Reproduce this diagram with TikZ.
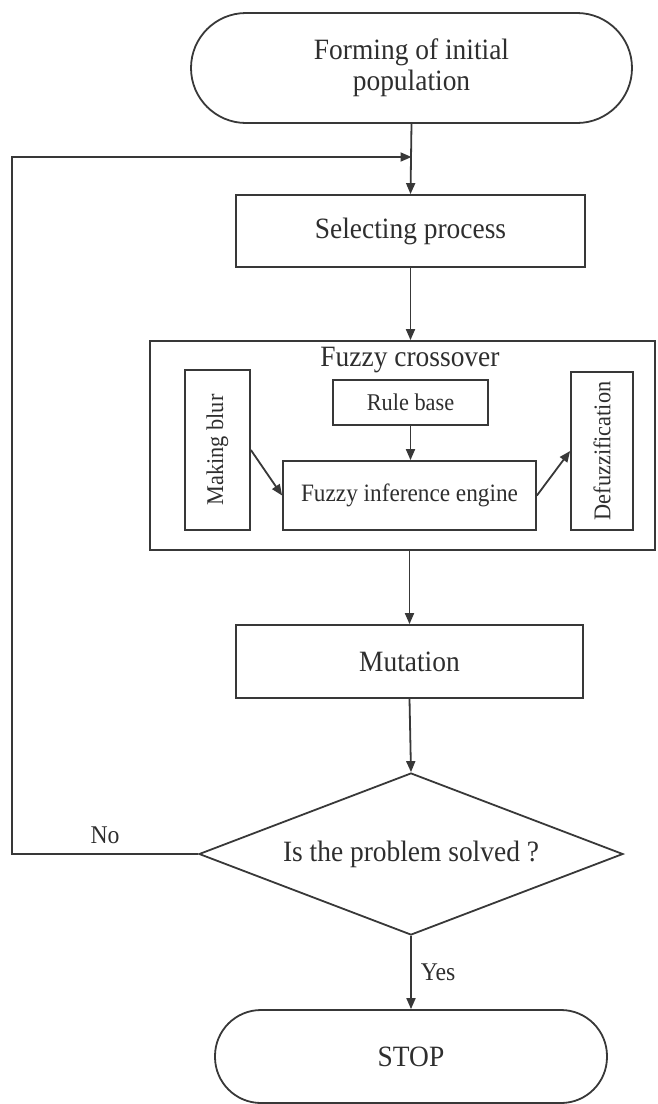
\documentclass[tikz,border=0pt]{standalone}
\usepackage{fontspec}
\setmainfont{Liberation Serif}[FakeStretch=0.93]
\usetikzlibrary{arrows.meta,shapes.geometric}
\definecolor{ink}{HTML}{383838}
\definecolor{txt}{HTML}{2E2E2E}
\begin{document}
\begin{tikzpicture}[x=1pt,y=-1pt,
  line width=1.8pt, draw=ink, text=txt,
  every node/.style={font=\fontsize{29.5}{31}\selectfont, inner sep=0pt},
  flowbox/.style={draw, rectangle, line width=1.8pt},
  terminal/.style={draw, rectangle, line width=1.8pt, align=center},
  smallbox/.style={draw, rectangle, line width=1.8pt, font=\fontsize{24}{26}\selectfont},
  decision/.style={draw, diamond, line width=1.8pt, shape aspect=2.6},
  flow/.style={draw=ink, line width=1.8pt, -{Triangle[length=11pt,width=9pt]}},
  tag/.style={font=\fontsize{25.5}{27}\selectfont, inner sep=3pt}]

\useasboundingbox (0,0) rectangle (657,1104);

% start terminal
\node[terminal, rounded corners=55pt, minimum width=441pt, minimum height=110pt]
  (start) at (411.5,68) {Forming of initial\\population};

% selection
\node[flowbox, minimum width=349pt, minimum height=72pt]
  (sel) at (410.5,231) {Selecting process};

% fuzzy crossover block
\node[flowbox, minimum width=505pt, minimum height=209pt]
  (fuzzy) at (402.5,445.5) {};
\node (fuzzylbl) at (410,360) {Fuzzy crossover};
\node[smallbox, minimum width=65pt, minimum height=160pt]
  (blur) at (217.5,450) {};
\node[rotate=90, font=\fontsize{24}{26}\selectfont] (blurlbl) at (blur.center) {Making blur};
\node[smallbox, minimum width=155pt, minimum height=45pt]
  (rule) at (410.5,402.5) {Rule base};
\node[smallbox, minimum width=253pt, minimum height=69pt, font=\fontsize{25}{27}\selectfont]
  (fie) at (409.5,495.5) {Fuzzy inference engine};
\node[smallbox, minimum width=62pt, minimum height=158pt]
  (defuzz) at (602,451) {};
\node[rotate=90, font=\fontsize{24}{26}\selectfont] (defuzzlbl) at (defuzz.center) {Defuzzification};

% mutation
\node[flowbox, minimum width=347pt, minimum height=73pt]
  (mut) at (409.5,661.5) {Mutation};

% decision
\node[decision, minimum width=424pt, minimum height=162pt]
  (dec) at (411,854) {Is the problem solved ?};

% stop terminal
\node[terminal, rounded corners=46pt, minimum width=392pt, minimum height=93pt]
  (stop) at (411,1056.5) {STOP};

% loop-back points
\coordinate (loop) at (12,157);
\coordinate (join) at (start.south |- loop);

% connectors
\draw[flow] (start.south) -- (sel.north);
\draw[flow] (dec.west) -- node[tag, above=6pt] {No} (dec.west -| loop) -- (loop) -- (join);
\draw[flow] (sel.south) -- (fuzzy.north -| sel.south);
\draw[flow] (rule.south) -- (fie.north -| rule.south);
\draw[flow] (blur.east) -- (fie.west);
\draw[flow] (fie.east) -- (defuzz.west);
\draw[flow] (fuzzy.south -| mut.north) -- (mut.north);
\draw[flow] (mut.south) -- (dec.north);
\draw[flow] (dec.south) -- node[tag, right=6pt] {Yes} (stop.north);
\end{tikzpicture}
\end{document}
